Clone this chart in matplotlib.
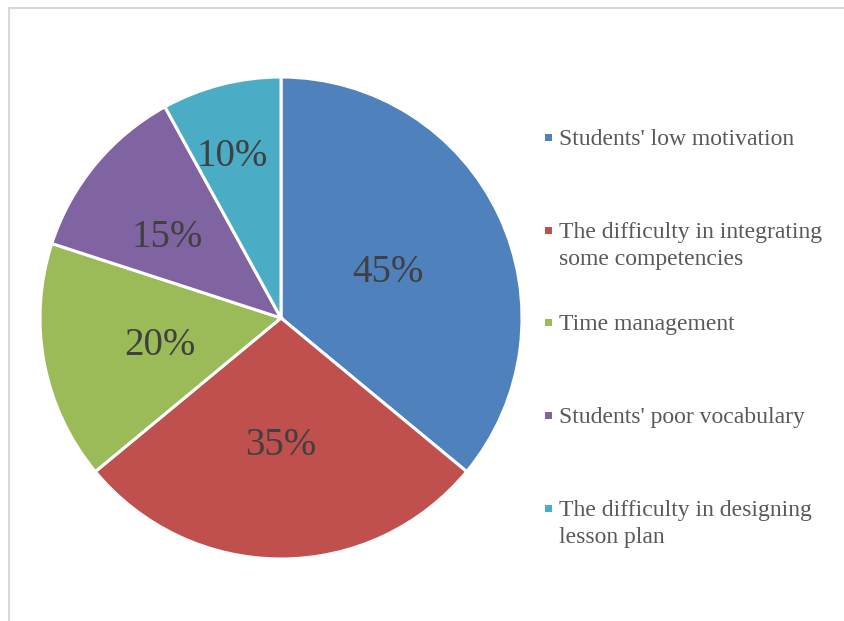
import matplotlib
matplotlib.use("Agg")
import numpy as np
import matplotlib.pyplot as plt
from matplotlib.patches import Rectangle

# Data
categories = [
    "Students' low motivation",
    "The difficulty in integrating\nsome competencies",
    "Time management",
    "Students' poor vocabulary",
    "The difficulty in designing\nlesson plan",
]
values = [45, 35, 20, 15, 10]
value_labels = ["45%", "35%", "20%", "15%", "10%"]
colors = ["#4F81BD", "#C0504D", "#9BBB59", "#8064A2", "#4BACC6"]

plt.rcParams["font.family"] = ["Liberation Serif", "DejaVu Serif"]

W, H = 845, 621
fig = plt.figure(figsize=(W / 100, H / 100), dpi=100)

# Light grey frame around the chart area
fig.patches.append(Rectangle((9 / W, -0.05), 1.0, 1 - 8 / H + 0.05,
                             transform=fig.transFigure, fill=False,
                             edgecolor="#d9d9d9", linewidth=1.5))

# Pie placed so its centre sits at (281, 318) px with radius 241 px
cx, cy, r = 281, 318, 241
ax = fig.add_axes([(cx - r) / W, (H - cy - r) / H, 2 * r / W, 2 * r / H])
wedges, texts = ax.pie(
    values,
    labels=value_labels,
    colors=colors,
    startangle=90,
    counterclock=False,
    labeldistance=0.5,
    wedgeprops=dict(edgecolor="white", linewidth=2.2),
    textprops=dict(fontsize=28, color="#404040", ha="center", va="baseline"),
)

# Excel pushes the small slice labels further out
label_dist = [0.49, 0.51, 0.51, 0.59, 0.72]
label_turn = [0, 0, 0, 3, 2]
for w, t, d, a in zip(wedges, texts, label_dist, label_turn):
    ang = np.deg2rad((w.theta1 + w.theta2) / 2 + a)
    t.set_position((d * np.cos(ang), d * np.sin(ang) - 14 / r))

ax.set_xlim(-1, 1)
ax.set_ylim(-1, 1)
ax.set_aspect("equal")
ax.axis("off")

# Legend, laid out like the original (first-line baselines in px)
legend_base = [145, 238, 330, 423, 516]
for lab, col, y in zip(categories, colors, legend_base):
    fig.patches.append(Rectangle((545 / W, (H - y + 4) / H), 7 / W, 7 / H,
                                 transform=fig.transFigure, facecolor=col,
                                 edgecolor="none"))
    for i, line in enumerate(lab.split("\n")):
        fig.text(559 / W, (H - y - 27 * i) / H, line, fontsize=17,
                 color="#595959", ha="left", va="baseline",
                 transform=fig.transFigure)

fig.savefig("out.png", dpi=100)
plt.close(fig)
